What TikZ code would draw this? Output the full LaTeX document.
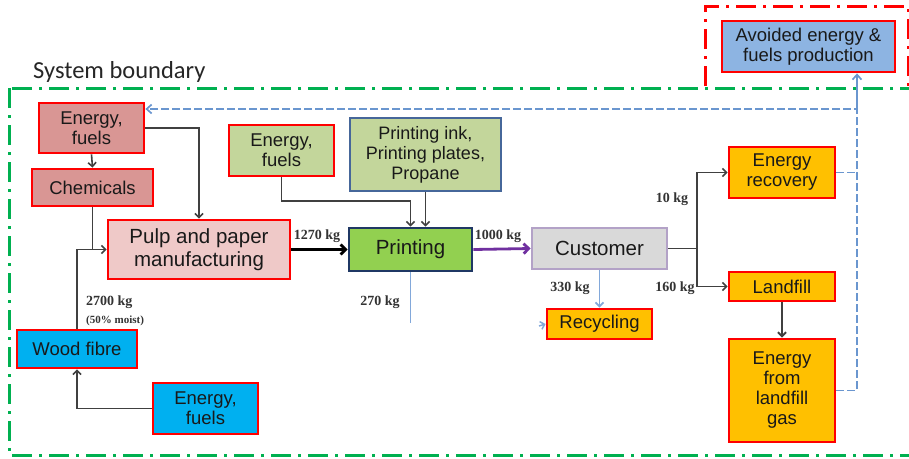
\documentclass[tikz,border=0pt]{standalone}
\usepackage{fontspec}
\setmainfont{Liberation Sans}
\newfontfamily\carl{Carlito}
\newfontfamily\lser{Liberation Serif}
\usetikzlibrary{arrows.meta}
\definecolor{pinkA}{HTML}{D99694}
\definecolor{pinkB}{HTML}{EFC9C8}
\definecolor{greenA}{HTML}{C3D69B}
\definecolor{greenB}{HTML}{92D050}
\definecolor{navy}{HTML}{1F3864}
\definecolor{steel}{HTML}{46679A}
\definecolor{greyA}{HTML}{D9D9D9}
\definecolor{lav}{HTML}{B3A2C7}
\definecolor{orangeA}{HTML}{FFC000}
\definecolor{cyanA}{HTML}{00B0F0}
\definecolor{blueA}{HTML}{8DB4E2}
\definecolor{cgray}{HTML}{404040}
\definecolor{dblue}{HTML}{6A96CF}
\definecolor{lblue}{HTML}{82A8DA}
\definecolor{bgreen}{HTML}{00B050}
\definecolor{purp}{HTML}{7030A0}
\begin{document}
\begin{tikzpicture}[x=1pt,y=-1pt,
  box/.style={draw=red, line width=2.8pt, align=center, inner sep=1pt, text=black!90,
    font=\fontsize{18.5}{20}\selectfont},
  bigbox/.style={box, font=\fontsize{20.5}{22.5}\selectfont},
  arr/.style={draw=cgray, line width=1.6pt, -{Straight Barb[length=4pt,width=8pt]}},
  plain/.style={draw=cgray, line width=1.6pt},
  dashblue/.style={draw=dblue, line width=1.7pt, dash pattern=on 8pt off 3pt},
  lab/.style={font=\lser\bfseries\fontsize{14}{14}\selectfont, text=black!80, inner sep=0pt},
  boundary/.style={line width=3pt, dash pattern=on 20pt off 7pt on 3pt off 7pt}
]
\useasboundingbox (0,0) rectangle (909,458);

% red boundary (avoided)
\draw[boundary, draw=red] (705,86) -- (705,6) -- (908,6) -- (908,86);
% system boundary
\draw[boundary, draw=bgreen] (9,88) rectangle (930,455);
\node[font=\carl\fontsize{24.5}{25}\selectfont, text=black!85, anchor=base west, inner sep=0pt] (sb) at (33,78) {System boundary};

% nodes
\node[box, fill=blueA, minimum width=173pt, minimum height=51pt] (avoid) at (808.5,46.5) {Avoided energy \&\\fuels production};
\node[box, fill=pinkA, minimum width=105pt, minimum height=50pt] (ef1) at (91.5,128) {Energy,\\fuels};
\node[box, fill=pinkA, minimum width=121pt, minimum height=37pt] (chem) at (92.5,187.5) {Chemicals};
\node[box, fill=greenA, minimum width=105pt, minimum height=51pt] (ef2) at (281.5,150.5) {Energy,\\fuels};
\node[box, draw=steel, fill=greenA, minimum width=151pt, minimum height=73pt, font=\fontsize{18}{20}\selectfont] (ink) at (425.5,154.5) {Printing ink,\\Printing plates,\\Propane};
\node[bigbox, fill=pinkB, minimum width=182pt, minimum height=59pt] (pulp) at (199,249.5) {Pulp and paper\\manufacturing};
\node[bigbox, draw=navy, fill=greenB, minimum width=123pt, minimum height=43pt] (print) at (410.5,249.5) {Printing};
\node[bigbox, draw=lav, fill=greyA, minimum width=135pt, minimum height=41pt] (cust) at (599.5,248.5) {Customer};
\node[box, fill=orangeA, minimum width=106pt, minimum height=51pt] (erec) at (782,172.5) {Energy\\recovery};
\node[box, fill=orangeA, minimum width=106pt, minimum height=29pt] (landf) at (782,286.5) {Landfill};
\node[box, fill=orangeA, minimum width=106pt, minimum height=103pt] (elg) at (782,390.5) {Energy\\from\\landfill\\gas};
\node[box, fill=orangeA, minimum width=105pt, minimum height=30pt] (recyc) at (599.5,324) {Recycling};
\node[box, fill=cyanA, minimum width=120pt, minimum height=38pt] (wood) at (77,349) {Wood fibre};
\node[box, fill=cyanA, minimum width=105pt, minimum height=51pt] (ef3) at (205.5,408.5) {Energy,\\fuels};

% connectors
\draw[arr] (ef1.south) -- (chem.north);
\draw[arr] (ef1.east) -| (pulp.north);
\draw[plain] (chem.south) -- (chem.south |- pulp.west);
\draw[arr] (wood.north) |- (pulp.west);
\draw[arr] (ef3.west) -| (wood.south);
\draw[draw=black, line width=2.8pt, -{Straight Barb[length=5pt,width=10pt]}] (pulp.east) -- (print.west);
\coordinate (e2b) at (281.5,201);
\draw[arr] (ef2.south) -- (e2b) -| (print.north);
\draw[arr] (ink.south) -- (ink.south |- print.north);
\draw[draw=purp, line width=2.8pt, -{Straight Barb[length=5pt,width=10pt]}] (print.east) -- (cust.west);
\coordinate (p270) at (410.5,323);
\draw[draw=lblue, line width=1.8pt] (print.south) -- (p270);
\coordinate (rtip) at (539,326);
\draw[draw=lblue, line width=1.5pt, -{Straight Barb[length=4pt,width=8pt]}] (rtip) -- (recyc.west);
\coordinate (br) at (697,248.5);
\draw[plain] (cust.east) -- (br);
\draw[arr] (br) |- (erec.west);
\draw[arr] (br) |- (landf.west);
\draw[draw=lblue, line width=1.8pt, -{Straight Barb[length=4pt,width=8pt]}] (cust.south) -- (recyc.north);
\draw[arr, line width=2pt] (landf.south) -- (elg.north);

% dashed feedback
\coordinate (j) at (857,109);
\draw[dashblue] (erec.east) -- (erec.east -| j);
\draw[dashblue, -{Straight Barb[length=5pt,width=9pt]}] (elg.east) -| (j) -- ([yshift=19pt]ef1.east);
\draw[dashblue, solid, -{Straight Barb[length=5pt,width=9pt]}] (j) -- (j |- avoid.south);

% labels
\node[lab] (l1270) at (317,236) {1270 kg};
\node[lab] (l1000) at (498,236) {1000 kg};
\node[lab] (l270) at (380,302) {270 kg};
\node[lab] (l330) at (570,288) {330 kg};
\node[lab] (l160) at (675,288) {160 kg};
\node[lab] (l10) at (672,199) {10 kg};
\node[lab, anchor=west] (l2700) at (86,302) {2700 kg};
\node[lab, anchor=west, font=\lser\bfseries\fontsize{11}{12}\selectfont] (lmoist) at (86,321) {(50\% moist)};
\end{tikzpicture}
\end{document}
